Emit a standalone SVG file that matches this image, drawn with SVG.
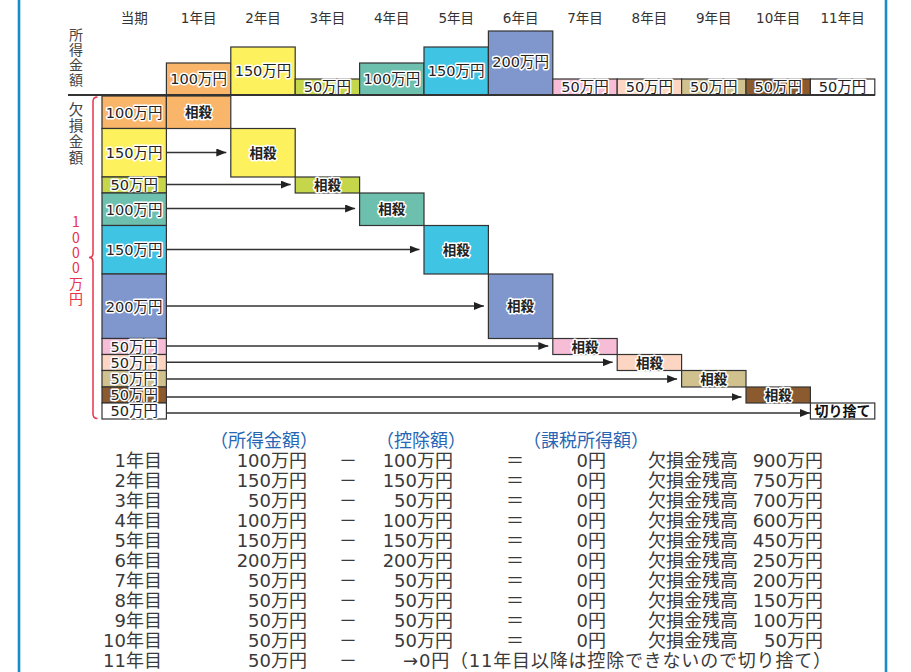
<svg xmlns="http://www.w3.org/2000/svg" width="911" height="672" viewBox="0 0 911 672">
<defs>
<style>
.hdr{font-family:"DejaVu Sans","Noto Sans CJK JP",sans-serif;font-size:13.5px;fill:#333;text-anchor:middle}
.vt{font-family:"Noto Sans CJK JP",sans-serif;fill:#444;writing-mode:vertical-rl;text-orientation:upright}
.red{fill:#e8334a}
.bx{stroke:#333;stroke-width:1.2}
.lb{font-family:"DejaVu Sans","Noto Sans CJK JP",sans-serif;font-size:14.5px;fill:#222;text-anchor:middle;stroke:#fff;stroke-width:3;stroke-linejoin:round;paint-order:stroke}
.ss{font-family:"Noto Sans CJK JP",sans-serif;font-weight:bold;font-size:13.5px;fill:#222;text-anchor:middle;stroke:#fff;stroke-width:3;stroke-linejoin:round;paint-order:stroke}
.cut{font-family:"Noto Sans CJK JP",sans-serif;font-weight:bold;font-size:14px;fill:#111;text-anchor:middle}
.tb{font-family:"DejaVu Sans","Noto Sans CJK JP",sans-serif;font-size:18px;fill:#3a3a3a}
.bl{font-family:"Noto Sans CJK JP",sans-serif;font-size:18px;fill:#2766b5;text-anchor:middle}
.e{text-anchor:end}
.m{text-anchor:middle}
.ar{stroke:#333;stroke-width:1.5;fill:none;marker-end:url(#ah)}
.c1{fill:#f9b66b}.c2{fill:#fdf15e}.c3{fill:#c5d64b}.c4{fill:#6dbfae}.c5{fill:#40c4e3}.c6{fill:#7f97cd}
.c7{fill:#f7bdd7}.c8{fill:#fdd6c3}.c9{fill:#d0c18f}.c10{fill:#8b5a2e}.c11{fill:#ffffff}
</style>
<marker id="ah" markerUnits="userSpaceOnUse" markerWidth="11" markerHeight="8" refX="10" refY="4" orient="auto">
<path d="M0,0 L10,4 L0,8 z" fill="#222"/>
</marker>
</defs>
<rect width="911" height="672" fill="#fff"/>
<rect id="frame" x="19" y="-10" width="867" height="700" fill="none" stroke="#1a8bc9" stroke-width="2.6"/>

<g id="header">
<text class="hdr" x="134.2" y="22.5">当期</text>
<text class="hdr" x="198.6" y="22.5">1年目</text>
<text class="hdr" x="263" y="22.5">2年目</text>
<text class="hdr" x="327.4" y="22.5">3年目</text>
<text class="hdr" x="391.8" y="22.5">4年目</text>
<text class="hdr" x="456.2" y="22.5">5年目</text>
<text class="hdr" x="520.6" y="22.5">6年目</text>
<text class="hdr" x="585" y="22.5">7年目</text>
<text class="hdr" x="649.4" y="22.5">8年目</text>
<text class="hdr" x="713.8" y="22.5">9年目</text>
<text class="hdr" x="778.2" y="22.5">10年目</text>
<text class="hdr" x="842.6" y="22.5">11年目</text>
</g>

<g id="axis-labels">
<text class="vt" x="76" y="28" font-size="14" letter-spacing="1">所得金額</text>
<text class="vt" x="76" y="102.5" font-size="14.5" letter-spacing="1.5">欠損金額</text>
<text class="vt red" x="76" y="215" font-size="14" letter-spacing="1.3">1000万円</text>
<path id="brace" d="M97.5,97 Q93,97 93,101.5 L93,253 Q93,257.5 89,257.5 Q93,257.5 93,262 L93,414 Q93,418.5 97.5,418.5" fill="none" stroke="#e8334a" stroke-width="1.5"/>
</g>

<g id="income">
<rect class="bx c1" x="166.4" y="63" width="64.4" height="32"/><text class="lb" x="198.6" y="84.2">100万円</text>
<rect class="bx c2" x="230.8" y="47" width="64.4" height="48"/><text class="lb" x="263" y="75.5">150万円</text>
<rect class="bx c3" x="295.2" y="79" width="64.4" height="16"/><text class="lb" x="327.4" y="92.4">50万円</text>
<rect class="bx c4" x="359.6" y="63" width="64.4" height="32"/><text class="lb" x="391.8" y="84.2">100万円</text>
<rect class="bx c5" x="424" y="47" width="64.4" height="48"/><text class="lb" x="456.2" y="75.5">150万円</text>
<rect class="bx c6" x="488.4" y="31" width="64.4" height="64"/><text class="lb" x="520.6" y="67.2">200万円</text>
<rect class="bx c7" x="552.8" y="79" width="64.4" height="16"/><text class="lb" x="585" y="92.4">50万円</text>
<rect class="bx c8" x="617.2" y="79" width="64.4" height="16"/><text class="lb" x="649.4" y="92.4">50万円</text>
<rect class="bx c9" x="681.6" y="79" width="64.4" height="16"/><text class="lb" x="713.8" y="92.4">50万円</text>
<rect class="bx c10" x="746" y="79" width="64.4" height="16"/><text class="lb" x="778.2" y="92.4">50万円</text>
<rect class="bx c11" x="810.4" y="79" width="64.4" height="16"/><text class="lb" x="842.6" y="92.4">50万円</text>
<path d="M68,95 H875" stroke="#333" stroke-width="2"/>
</g>

<g id="losses">
<rect class="bx c1" x="102" y="96" width="64.4" height="32.5"/><text class="lb" x="134.2" y="117.5">100万円</text>
<rect class="bx c2" x="102" y="128.5" width="64.4" height="48.5"/><text class="lb" x="134.2" y="158">150万円</text>
<rect class="bx c3" x="102" y="177" width="64.4" height="16"/><text class="lb" x="134.2" y="190.2">50万円</text>
<rect class="bx c4" x="102" y="193" width="64.4" height="32.5"/><text class="lb" x="134.2" y="214.5">100万円</text>
<rect class="bx c5" x="102" y="225.5" width="64.4" height="48.5"/><text class="lb" x="134.2" y="255">150万円</text>
<rect class="bx c6" x="102" y="274" width="64.4" height="64.5"/><text class="lb" x="134.2" y="311.5">200万円</text>
<rect class="bx c7" x="102" y="338.5" width="64.4" height="16"/><text class="lb" x="134.2" y="351.7">50万円</text>
<rect class="bx c8" x="102" y="354.5" width="64.4" height="16"/><text class="lb" x="134.2" y="367.7">50万円</text>
<rect class="bx c9" x="102" y="370.5" width="64.4" height="16.5"/><text class="lb" x="134.2" y="384">50万円</text>
<rect class="bx c10" x="102" y="387" width="64.4" height="16"/><text class="lb" x="134.2" y="400.2">50万円</text>
<rect class="bx c11" x="102" y="403" width="64.4" height="16"/><text class="lb" x="134.2" y="416.2">50万円</text>
</g>

<g id="offsets">
<rect class="bx c1" x="166.4" y="96" width="64.4" height="32.5"/><text class="ss" x="198.6" y="117.3">相殺</text>
<rect class="bx c2" x="230.8" y="128.5" width="64.4" height="48.5"/><text class="ss" x="263" y="157.8">相殺</text>
<rect class="bx c3" x="295.2" y="177" width="64.4" height="16"/><text class="ss" x="327.4" y="190">相殺</text>
<rect class="bx c4" x="359.6" y="193" width="64.4" height="32.5"/><text class="ss" x="391.8" y="214.3">相殺</text>
<rect class="bx c5" x="424" y="225.5" width="64.4" height="48.5"/><text class="ss" x="456.2" y="254.8">相殺</text>
<rect class="bx c6" x="488.4" y="274" width="64.4" height="64.5"/><text class="ss" x="520.6" y="311.3">相殺</text>
<rect class="bx c7" x="552.8" y="338.5" width="64.4" height="16"/><text class="ss" x="585" y="351.5">相殺</text>
<rect class="bx c8" x="617.2" y="354.5" width="64.4" height="16"/><text class="ss" x="649.4" y="367.5">相殺</text>
<rect class="bx c9" x="681.6" y="370.5" width="64.4" height="16.5"/><text class="ss" x="713.8" y="383.8">相殺</text>
<rect class="bx c10" x="746" y="387" width="64.4" height="16"/><text class="ss" x="778.2" y="400">相殺</text>
<rect class="bx c11" x="810.4" y="403" width="64.4" height="16"/><text class="cut" x="842.6" y="416.3">切り捨て</text>
</g>

<g id="connectors">
<path class="ar" d="M166.4,152.5 H226.3"/>
<path class="ar" d="M166.4,184.5 H290.7"/>
<path class="ar" d="M166.4,208.5 H355.1"/>
<path class="ar" d="M166.4,249.5 H419.5"/>
<path class="ar" d="M166.4,306 H483.9"/>
<path class="ar" d="M166.4,346 H548.3"/>
<path class="ar" d="M166.4,362.3 H612.7"/>
<path class="ar" d="M166.4,379 H677.1"/>
<path class="ar" d="M166.4,397 H741.5"/>
<path class="ar" d="M166.4,413 H810"/>
</g>

<g id="table">
<text class="bl" x="264" y="446.5">（所得金額）</text>
<text class="bl" x="421" y="446.5">（控除額）</text>
<text class="bl" x="586" y="446.5">（課税所得額）</text>

<text class="tb e" x="162" y="466.5">1年目</text><text class="tb e" x="307" y="466.5">100万円</text><text class="tb m" x="348" y="466.5">－</text><text class="tb e" x="453" y="466.5">100万円</text><text class="tb m" x="515" y="466.5">＝</text><text class="tb e" x="606" y="466.5">0円</text><text class="tb" x="648" y="466.5">欠損金残高</text><text class="tb e" x="823" y="466.5">900万円</text>
<text class="tb e" x="162" y="486.55">2年目</text><text class="tb e" x="307" y="486.55">150万円</text><text class="tb m" x="348" y="486.55">－</text><text class="tb e" x="453" y="486.55">150万円</text><text class="tb m" x="515" y="486.55">＝</text><text class="tb e" x="606" y="486.55">0円</text><text class="tb" x="648" y="486.55">欠損金残高</text><text class="tb e" x="823" y="486.55">750万円</text>
<text class="tb e" x="162" y="506.6">3年目</text><text class="tb e" x="307" y="506.6">50万円</text><text class="tb m" x="348" y="506.6">－</text><text class="tb e" x="453" y="506.6">50万円</text><text class="tb m" x="515" y="506.6">＝</text><text class="tb e" x="606" y="506.6">0円</text><text class="tb" x="648" y="506.6">欠損金残高</text><text class="tb e" x="823" y="506.6">700万円</text>
<text class="tb e" x="162" y="526.65">4年目</text><text class="tb e" x="307" y="526.65">100万円</text><text class="tb m" x="348" y="526.65">－</text><text class="tb e" x="453" y="526.65">100万円</text><text class="tb m" x="515" y="526.65">＝</text><text class="tb e" x="606" y="526.65">0円</text><text class="tb" x="648" y="526.65">欠損金残高</text><text class="tb e" x="823" y="526.65">600万円</text>
<text class="tb e" x="162" y="546.7">5年目</text><text class="tb e" x="307" y="546.7">150万円</text><text class="tb m" x="348" y="546.7">－</text><text class="tb e" x="453" y="546.7">150万円</text><text class="tb m" x="515" y="546.7">＝</text><text class="tb e" x="606" y="546.7">0円</text><text class="tb" x="648" y="546.7">欠損金残高</text><text class="tb e" x="823" y="546.7">450万円</text>
<text class="tb e" x="162" y="566.75">6年目</text><text class="tb e" x="307" y="566.75">200万円</text><text class="tb m" x="348" y="566.75">－</text><text class="tb e" x="453" y="566.75">200万円</text><text class="tb m" x="515" y="566.75">＝</text><text class="tb e" x="606" y="566.75">0円</text><text class="tb" x="648" y="566.75">欠損金残高</text><text class="tb e" x="823" y="566.75">250万円</text>
<text class="tb e" x="162" y="586.8">7年目</text><text class="tb e" x="307" y="586.8">50万円</text><text class="tb m" x="348" y="586.8">－</text><text class="tb e" x="453" y="586.8">50万円</text><text class="tb m" x="515" y="586.8">＝</text><text class="tb e" x="606" y="586.8">0円</text><text class="tb" x="648" y="586.8">欠損金残高</text><text class="tb e" x="823" y="586.8">200万円</text>
<text class="tb e" x="162" y="606.85">8年目</text><text class="tb e" x="307" y="606.85">50万円</text><text class="tb m" x="348" y="606.85">－</text><text class="tb e" x="453" y="606.85">50万円</text><text class="tb m" x="515" y="606.85">＝</text><text class="tb e" x="606" y="606.85">0円</text><text class="tb" x="648" y="606.85">欠損金残高</text><text class="tb e" x="823" y="606.85">150万円</text>
<text class="tb e" x="162" y="626.9">9年目</text><text class="tb e" x="307" y="626.9">50万円</text><text class="tb m" x="348" y="626.9">－</text><text class="tb e" x="453" y="626.9">50万円</text><text class="tb m" x="515" y="626.9">＝</text><text class="tb e" x="606" y="626.9">0円</text><text class="tb" x="648" y="626.9">欠損金残高</text><text class="tb e" x="823" y="626.9">100万円</text>
<text class="tb e" x="162" y="646.95">10年目</text><text class="tb e" x="307" y="646.95">50万円</text><text class="tb m" x="348" y="646.95">－</text><text class="tb e" x="453" y="646.95">50万円</text><text class="tb m" x="515" y="646.95">＝</text><text class="tb e" x="606" y="646.95">0円</text><text class="tb" x="648" y="646.95">欠損金残高</text><text class="tb e" x="823" y="646.95">50万円</text>
<text class="tb e" x="162" y="667">11年目</text><text class="tb e" x="307" y="667">50万円</text><text class="tb m" x="348" y="667">－</text><text class="tb" x="403" y="667" textLength="428" lengthAdjust="spacing">→0円（11年目以降は控除できないので切り捨て）</text>
</g>
</svg>
